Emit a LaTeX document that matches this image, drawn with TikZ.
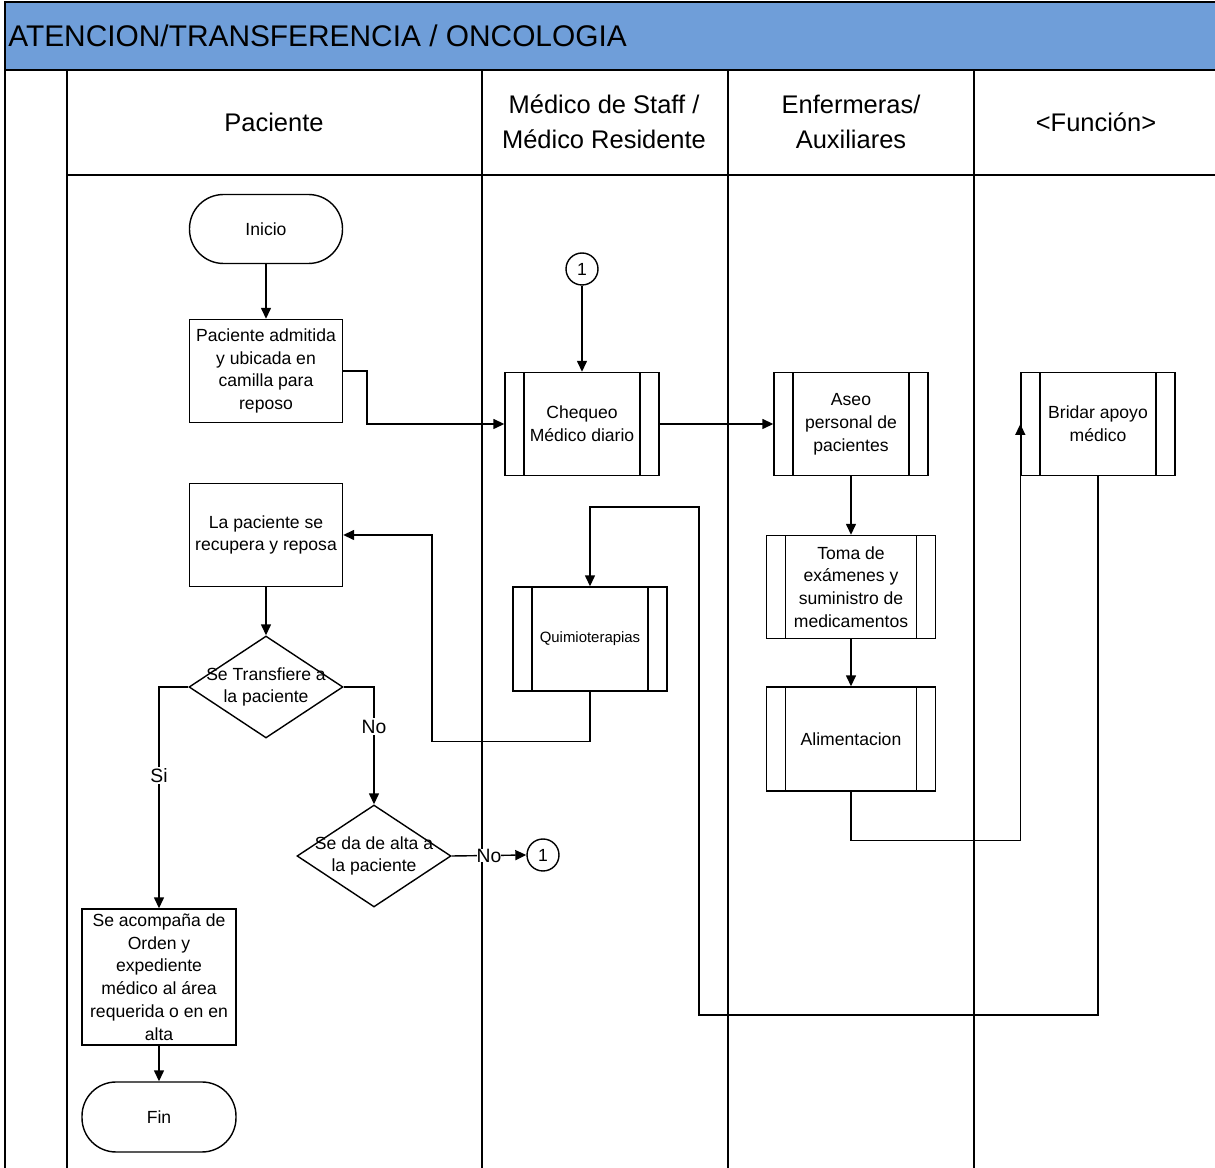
\documentclass[tikz,border=0pt]{standalone}
\usepackage{fontspec}
\setmainfont{Liberation Sans}
\usetikzlibrary{shapes.geometric,arrows.meta}
\definecolor{titleblue}{RGB}{111,158,217}
\begin{document}
\begin{tikzpicture}[x=0.02cm,y=-0.02cm,
        txt/.style={font=\fontsize{10}{13}\selectfont},
        box/.style={draw,line width=0.8pt,align=center,inner sep=1pt,txt,minimum width=3.06cm,minimum height=2.06cm},
        proc/.style={box,path picture={
            \draw[line width=0.8pt] ([xshift=0.38cm]path picture bounding box.north west) -- ([xshift=0.38cm]path picture bounding box.south west)
                ([xshift=-0.38cm]path picture bounding box.north east) -- ([xshift=-0.38cm]path picture bounding box.south east);}},
        term/.style={box,rounded corners=0.68cm,minimum height=1.38cm},
        dec/.style={diamond,draw,line width=0.8pt,inner sep=0pt,minimum width=3.08cm,minimum height=2.04cm},
        conn/.style={circle,draw,line width=0.8pt,inner sep=0pt,minimum size=0.64cm,txt},
        arr/.style={-{Triangle[length=0.22cm,width=0.2cm]},line width=0.8pt},
        lbl/.style={fill=white,inner sep=1pt,font=\fontsize{11}{13}\selectfont},
        hdr/.style={align=center,font=\fontsize{14.5}{19.8}\selectfont}]
    \useasboundingbox (0,0) rectangle (1215,1168);
    % title bar and lanes
    \draw[fill=titleblue,line width=1pt] (5,2) rectangle (1217,70);
    \node[anchor=west,inner sep=0pt,font=\fontsize{17}{20}\selectfont] (title) at (8,36) {ATENCION/TRANSFERENCIA / ONCOLOGIA};
    \draw[line width=1.6pt] (5,70) -- (1217,70);
    \draw[line width=1pt] (5,70) -- (5,1170);
    \draw[line width=0.8pt] (67,70) -- (67,1170);
    \draw[line width=0.8pt] (482,70) -- (482,1170);
    \draw[line width=0.8pt] (728,70) -- (728,1170);
    \draw[line width=0.8pt] (974,70) -- (974,1170);
    \draw[line width=0.8pt] (67,175) -- (1217,175);
    \node[hdr] (hpac) at (274,122) {Paciente};
    \node[hdr] (hmed) at (604,122) {Médico de Staff /\\Médico Residente};
    \node[hdr] (henf) at (851,122) {Enfermeras/\\Auxiliares};
    \node[hdr] (hfun) at (1096,122) {<Función>};
    % Paciente
    \node[term] (ini) at (266,229) {Inicio};
    \node[box] (adm) at (266,371) {Paciente admitida\\y ubicada en\\camilla para\\reposo};
    \node[box] (rec) at (266,535) {La paciente se\\recupera y reposa};
    \node[dec,label={[align=center,txt]center:Se Transfiere a\\la paciente}] (trf) at (266,687) {};
    \node[dec,label={[align=center,txt]center:Se da de alta a\\la paciente}] (alta) at (374,856) {};
    \node[box,minimum width=3.08cm,minimum height=2.72cm] (acp) at (159,977) {Se acompaña de\\Orden y\\expediente\\médico al área\\requerida o en en\\alta};
    \node[term,minimum width=3.08cm,minimum height=1.4cm] (fin) at (159,1117) {Fin};
    % Medico
    \node[conn] (c1a) at (582,269) {1};
    \node[proc,minimum width=3.08cm] (chq) at (582,424) {Chequeo\\Médico diario};
    \node[proc,minimum width=3.08cm,minimum height=2.08cm,font=\fontsize{8.5}{11}\selectfont] (qui) at (590,639) {Quimioterapias};
    \node[conn] (c1b) at (543,855) {1};
    % Enfermeras
    \node[proc,minimum width=3.08cm] (ase) at (851,424) {Aseo\\personal de\\pacientes};
    \node[proc,minimum width=3.38cm] (tom) at (851,587) {Toma de\\exámenes y\\suministro de\\medicamentos};
    \node[proc,minimum width=3.38cm,minimum height=2.08cm] (ali) at (851,739) {Alimentacion};
    % Funcion
    \node[proc,minimum width=3.08cm] (bri) at (1098,424) {Bridar apoyo\\médico};
    % flow
    \draw[arr] (ini) -- (adm);
    \draw[arr] (adm.east) -- ++(24,0) |- (chq.west);
    \draw[arr] (c1a) -- (chq);
    \draw[arr] (chq) -- (ase);
    \draw[arr] (ase) -- (tom);
    \draw[arr] (tom) -- (ali);
    \draw[arr] (ali.south) -- ++(0,49) -| (bri.west);
    \draw[arr] (bri.south) -- ++(0,539) -- ++(-399,0) -- ++(0,-508) -| (qui.north);
    \draw[arr] (qui.south) -- ++(0,50) -- ++(-158,0) |- (rec.east);
    \draw[arr] (rec) -- (trf);
    \draw[arr] (trf.west) -| node[lbl,pos=0.7] (si) {Si} (acp.north);
    \draw[arr] (trf.east) -| node[lbl,pos=0.67] (no1) {No} (alta.north);
    \draw[arr] (alta.east) -- node[lbl,pos=0.5,inner sep=0pt] (no2) {No} (c1b.west);
    \draw[arr] (acp) -- (fin);
\end{tikzpicture}
\end{document}
